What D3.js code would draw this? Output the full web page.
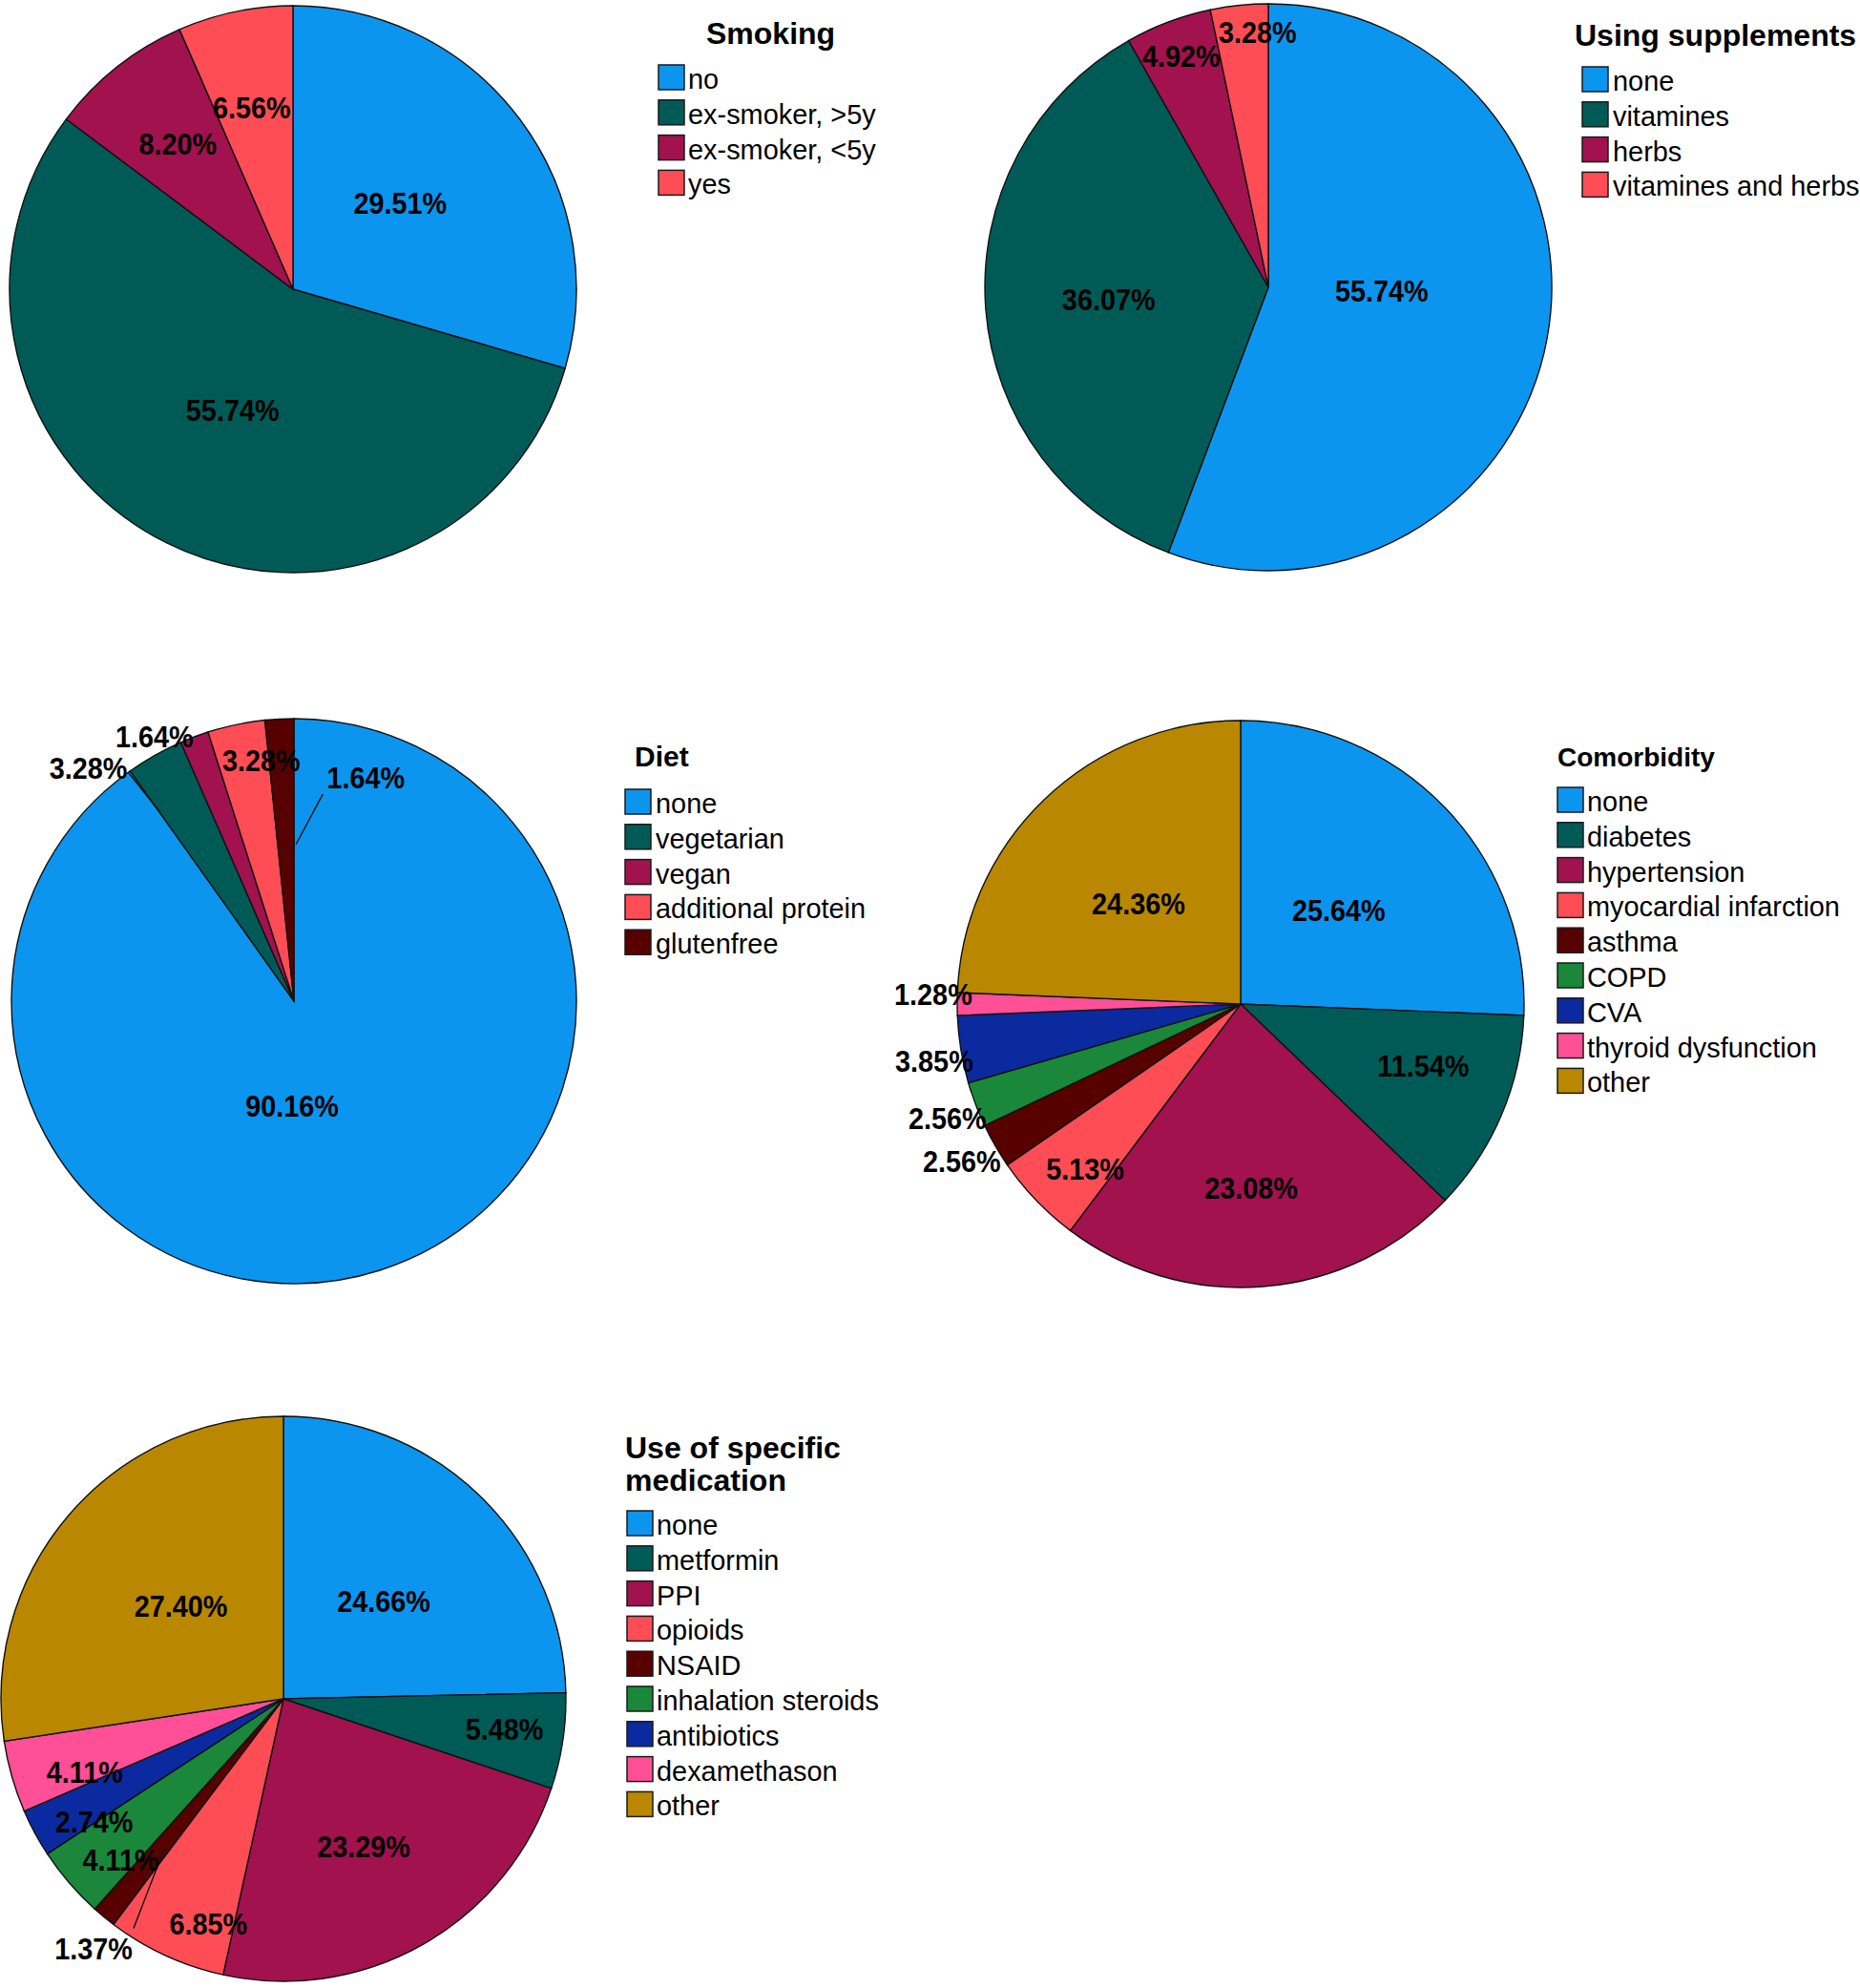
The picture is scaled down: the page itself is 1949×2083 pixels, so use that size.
<!DOCTYPE html>
<meta charset="utf-8">
<style>

body {
  margin: 0;
  background: #fff;
  font-family: 'Liberation Sans', Arial, sans-serif;
}

path.slice, line.leader
{
    stroke: #111;
    stroke-width: 1.4;
}

.title
{
    font-weight: bold;
    fill: #000;
}

.legend
{
    font-size: 28.9px;
    fill: #000;
}

.pct
{
    font-size: 32px;
    font-weight: bold;
    fill: #000;
}

</style>
<body>
<div id='chart'></div>
<script src="https://cdnjs.cloudflare.com/ajax/libs/d3/7.8.5/d3.min.js"></script>
<script>

// data (percent of respondents)
var smokingCats = ['no', 'ex-smoker, >5y', 'ex-smoker, <5y', 'yes'];
var smokingPct = [29.51, 55.74, 8.20, 6.56];

var supplementCats = ['none', 'vitamines', 'herbs', 'vitamines and herbs'];
var supplementPct = [55.74, 36.07, 4.92, 3.28];

var dietCats = ['none', 'vegetarian', 'vegan', 'additional protein', 'glutenfree'];
var dietPct = [90.16, 3.28, 1.64, 3.28, 1.64];

var comorbCats = ['none', 'diabetes', 'hypertension', 'myocardial infarction', 'asthma',
                  'COPD', 'CVA', 'thyroid dysfunction', 'other'];
var comorbPct = [25.64, 11.54, 23.08, 5.13, 2.56, 2.56, 3.85, 1.28, 24.36];

var medCats = ['none', 'metformin', 'PPI', 'opioids', 'NSAID', 'inhalation steroids',
               'antibiotics', 'dexamethason', 'other'];
var medPct = [24.66, 5.48, 23.29, 6.85, 1.37, 4.11, 2.74, 4.11, 27.40];

// spss-ish category colours, same order in every chart
var palette = ['#0c95ee', '#005b56', '#a1124f', '#ff4d56', '#570000',
               '#1a873b', '#0b2aa0', '#ff4f97', '#b98800'];

// layout of each panel: pie centre/radius, legend spot, label nudges
// lab = [angle offset from slice middle (deg), radius factor]
// leaders = [slice, dAngle1, k1, dAngle2, k2]
var panels = [
  { title: ['Smoking'], cats: smokingCats, vals: smokingPct,
    cx: 307, cy: 303, r: 297,
    tx: 740, ty: 46, tsize: 32, sx: 690, sy: 68, lx: 721,
    lab: [[-2, .486], [0, .477], [0, .655], [-1, .656]], leaders: [] },
  { title: ['Using supplements'], cats: supplementCats, vals: supplementPct,
    cx: 1329, cy: 301, r: 297,
    tx: 1650, ty: 48, tsize: 32, sx: 1658, sy: 70, lx: 1690,
    lab: [[-8.3, .40], [0, .565], [0, .87], [3.5, .90]], leaders: [] },
  { title: ['Diet'], cats: dietCats, vals: dietPct,
    cx: 308, cy: 1049, r: 296,
    tx: 665, ty: 803, tsize: 30, sx: 655, sy: 827, lx: 687,
    lab: [[18.7, .37], [-11.9, 1.10], [-7.1, 1.06], [4.1, .86], [20.8, .83]],
    leaders: [[1, -6.4, 1.0, -5.8, .82], [4, 10.9, .74, 3.7, .555]] },
  { title: ['Comorbidity'], cats: comorbCats, vals: comorbPct,
    cx: 1300, cy: 1052, r: 297,
    tx: 1632, ty: 803, tsize: 28, sx: 1632, sy: 825, lx: 1663,
    lab: [[0.2, .478], [-4.4, .68], [1.3, .65], [-2.9, .80], [0.5, 1.13],
          [-0.5, 1.11], [-1.4, 1.10], [1.8, 1.085], [-1.7, .505]], leaders: [] },
  { title: ['Use of specific', 'medication'], cats: medCats, vals: medPct,
    cx: 297, cy: 1780, r: 296,
    tx: 655, ty: 1528, tsize: 32, sx: 657, sy: 1583, lx: 688,
    lab: [[1.4, .495], [-0.7, .79], [1.1, .595], [-6.2, .84], [-2.2, 1.11],
          [-4.0, .81], [-4.7, .80], [-4.3, .75], [1.5, .49]],
    leaders: [[4, -6.3, .97, -1.0, .68]] }
];

var svg = d3.select('#chart')
            .append('svg')
            .attr('width', 1949)
            .attr('height', 2083);

var pie = d3.pie().sort(null).value(function(d) { return d; });
var rad = Math.PI / 180;

function polar(a, k, r) {
  return [Math.sin(a) * r * k, -Math.cos(a) * r * k];
}

panels.forEach(function(p) {
  var color = d3.scaleOrdinal().domain(p.cats).range(palette);
  var arcs = pie(p.vals);
  var arc = d3.arc().innerRadius(0).outerRadius(p.r);

  var g = svg.append('g')
             .attr('transform', 'translate(' + p.cx + ',' + p.cy + ')');

  g.selectAll('path.slice')
   .data(arcs)
   .enter().append('path')
     .attr('class', 'slice')
     .attr('d', arc)
     .attr('fill', function(d, i) { return color(p.cats[i]); });

  p.leaders.forEach(function(l) {
    var d = arcs[l[0]];
    var mid = (d.startAngle + d.endAngle) / 2;
    var a = polar(mid + l[1] * rad, l[2], p.r);
    var b = polar(mid + l[3] * rad, l[4], p.r);
    g.append('line')
     .attr('class', 'leader')
     .attr('x1', a[0]).attr('y1', a[1])
     .attr('x2', b[0]).attr('y2', b[1]);
  });

  g.selectAll('g.pct')
   .data(arcs)
   .enter().append('g')
     .attr('transform', function(d, i) {
       var mid = (d.startAngle + d.endAngle) / 2;
       var pt = polar(mid + p.lab[i][0] * rad, p.lab[i][1], p.r);
       return 'translate(' + pt[0] + ',' + pt[1] + ') scale(0.9,1)';
     })
   .append('text')
     .attr('class', 'pct')
     .attr('text-anchor', 'middle')
     .attr('dy', '0.35em')
     .text(function(d) { return d.data.toFixed(2) + '%'; });

  // legend
  p.title.forEach(function(t, j) {
    svg.append('text')
       .attr('class', 'title')
       .attr('x', p.tx)
       .attr('y', p.ty + j * 34)
       .style('font-size', p.tsize + 'px')
       .text(t);
  });

  var step = 36.8;
  var row = svg.selectAll(null)
     .data(p.cats)
     .enter().append('g')
       .attr('transform', function(d, i) { return 'translate(0,' + (p.sy + i * step) + ')'; });

  row.append('rect')
     .attr('x', p.sx)
     .attr('y', 0)
     .attr('width', 27)
     .attr('height', 26)
     .attr('fill', function(d) { return color(d); })
     .attr('stroke', '#1a1a1a')
     .attr('stroke-width', 1.5);

  row.append('text')
     .attr('class', 'legend')
     .attr('x', p.lx)
     .attr('y', 25)
     .text(function(d) { return d; });
});

</script>
</body>
